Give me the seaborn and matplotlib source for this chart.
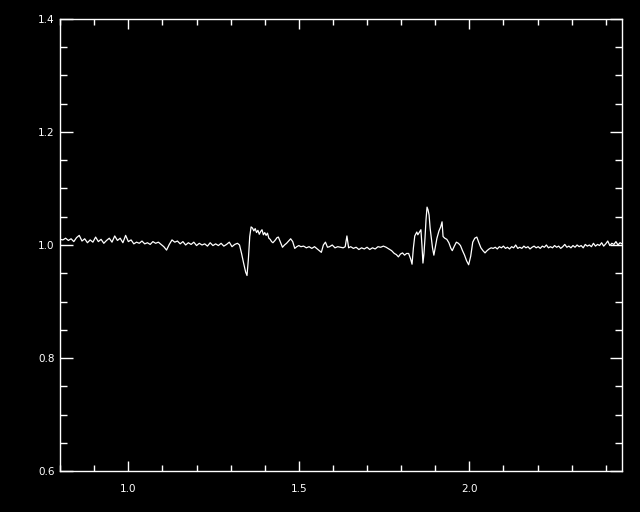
import numpy as np
import pandas as pd
import matplotlib
matplotlib.use('Agg')
import matplotlib.pyplot as plt
import seaborn as sns
from matplotlib.ticker import MultipleLocator, FormatStrFormatter

# spectrum: wavelength / normalised flux
wave = [
    0.800, 0.808, 0.816, 0.824, 0.832, 0.840, 0.848, 0.856, 0.864, 0.872,
    0.880, 0.888, 0.896, 0.904, 0.912, 0.920, 0.928, 0.936, 0.944, 0.952,
    0.960, 0.968, 0.976, 0.984, 0.992, 1.000, 1.008, 1.016, 1.024, 1.032,
    1.040, 1.048, 1.056, 1.064, 1.072, 1.080, 1.088, 1.096, 1.104, 1.112,
    1.120, 1.128, 1.136, 1.144, 1.152, 1.160, 1.168, 1.176, 1.184, 1.192,
    1.200, 1.208, 1.216, 1.224, 1.232, 1.240, 1.248, 1.256, 1.264, 1.272,
    1.280, 1.288, 1.296, 1.304, 1.312, 1.320,
    1.326, 1.332, 1.338, 1.344, 1.348, 1.352, 1.356, 1.360, 1.364, 1.368,
    1.372, 1.376, 1.380, 1.384, 1.388, 1.392, 1.396, 1.400, 1.404, 1.408,
    1.412, 1.416, 1.420,
    1.424, 1.430, 1.436, 1.440, 1.446, 1.452, 1.458, 1.464, 1.470, 1.476,
    1.482, 1.488, 1.494, 1.500, 1.506, 1.514, 1.522, 1.530, 1.538, 1.546,
    1.554, 1.560, 1.566, 1.572, 1.578, 1.584, 1.590, 1.598, 1.606, 1.614,
    1.622, 1.630,
    1.636, 1.641, 1.646, 1.652, 1.660, 1.668, 1.676, 1.684, 1.692, 1.700,
    1.708, 1.716, 1.724, 1.732, 1.740, 1.748, 1.756, 1.764, 1.772, 1.780,
    1.786, 1.792, 1.798, 1.804, 1.810, 1.816, 1.822, 1.828,
    1.832, 1.836, 1.840, 1.846, 1.849, 1.853, 1.858, 1.861, 1.864, 1.867,
    1.870, 1.873, 1.876, 1.879, 1.882, 1.885, 1.888, 1.892, 1.896, 1.900,
    1.905, 1.911, 1.916, 1.920, 1.923, 1.928, 1.934, 1.940, 1.946, 1.950,
    1.956, 1.962, 1.968, 1.974, 1.980, 1.986, 1.992, 1.998, 2.004, 2.010,
    2.016, 2.022,
    2.028, 2.034, 2.040, 2.046, 2.052, 2.058, 2.064, 2.070, 2.076, 2.082,
    2.088, 2.094, 2.100, 2.106, 2.112, 2.118, 2.124, 2.130, 2.136, 2.142,
    2.148, 2.154, 2.160, 2.166, 2.172, 2.178, 2.184, 2.190, 2.196, 2.202,
    2.208, 2.214, 2.220, 2.226, 2.232, 2.238, 2.244, 2.250, 2.256, 2.262,
    2.268, 2.274, 2.280, 2.286, 2.292, 2.298, 2.304, 2.310, 2.316, 2.322,
    2.328, 2.334, 2.340, 2.346, 2.352, 2.358, 2.364, 2.370, 2.376, 2.382,
    2.388, 2.394, 2.400, 2.406, 2.412, 2.418, 2.424, 2.430, 2.436, 2.442,
    2.448,
]
flux = [
    1.010, 1.009, 1.012, 1.008, 1.011, 1.006, 1.013, 1.017, 1.007, 1.011,
    1.004, 1.009, 1.005, 1.014, 1.006, 1.010, 1.003, 1.008, 1.012, 1.005,
    1.016, 1.008, 1.012, 1.004, 1.017, 1.006, 1.009, 1.002, 1.005, 1.003,
    1.007, 1.002, 1.004, 1.001, 1.006, 1.003, 1.005, 1.001, 0.997, 0.991,
    1.001, 1.009, 1.005, 1.007, 1.002, 1.006, 1.000, 1.004, 1.001, 1.005,
    0.999, 1.003, 1.000, 1.002, 0.998, 1.004, 0.999, 1.002, 0.999, 1.003,
    0.998, 1.001, 1.005, 0.997, 1.001, 1.003,
    1.000, 0.985, 0.968, 0.952, 0.946, 0.975, 1.015, 1.032, 1.030, 1.025,
    1.029, 1.022, 1.026, 1.019, 1.024, 1.027, 1.018, 1.022, 1.017, 1.021,
    1.012, 1.010, 1.006,
    1.004, 1.008, 1.013, 1.014, 1.005, 0.996, 1.000, 1.003, 1.007, 1.011,
    1.006, 0.994, 0.997, 0.999, 0.997, 0.998, 0.995, 0.997, 0.994, 0.997,
    0.993, 0.990, 0.987, 1.000, 1.005, 0.996, 0.997, 1.000, 0.995, 0.997,
    0.996, 0.995,
    0.997, 1.016, 0.995, 0.997, 0.994, 0.996, 0.992, 0.995, 0.993, 0.996,
    0.992, 0.995, 0.993, 0.997, 0.996, 0.998, 0.996, 0.993, 0.990, 0.985,
    0.983, 0.979, 0.984, 0.986, 0.982, 0.985, 0.985, 0.975,
    0.966, 0.995, 1.016, 1.023, 1.018, 1.022, 1.027, 1.000, 0.968, 0.985,
    1.012, 1.045, 1.067, 1.062, 1.053, 1.030, 1.015, 0.995, 0.982, 0.995,
    1.012, 1.025, 1.032, 1.041, 1.015, 1.012, 1.010, 1.004, 0.994, 0.990,
    0.998, 1.005, 1.003, 0.999, 0.990, 0.982, 0.972, 0.965, 0.980, 1.005,
    1.012, 1.014,
    1.004, 0.995, 0.990, 0.986, 0.990, 0.993, 0.995, 0.994, 0.996, 0.993,
    0.997, 0.995, 0.998, 0.994, 0.996, 0.993, 0.997, 0.995, 1.000, 0.994,
    0.996, 0.994, 0.998, 0.995, 0.997, 0.993, 0.996, 0.998, 0.995, 0.997,
    0.994, 0.998, 0.996, 1.000, 0.995, 0.997, 0.995, 0.999, 0.996, 0.998,
    0.994, 0.997, 1.001, 0.996, 0.998, 0.995, 0.999, 0.996, 1.000, 0.997,
    0.999, 0.995, 1.001, 0.998, 1.000, 0.997, 1.003, 0.998, 1.001, 0.999,
    1.004, 0.998, 1.002, 1.007, 0.999, 1.003, 1.001, 1.006, 1.000, 1.004,
    1.002,
]

df = pd.DataFrame({'wave': wave, 'flux': flux})

sns.set_style('dark')
plt.rcParams['font.family'] = ['DejaVu Sans']
plt.rcParams['figure.facecolor'] = 'black'
plt.rcParams['axes.facecolor'] = 'black'

fig = plt.figure(figsize=(6.4, 5.12), dpi=100)
ax = fig.add_axes([0.094, 0.080, 0.878, 0.883])
ax.set_facecolor('black')

sns.lineplot(data=df, x='wave', y='flux', color='white', linewidth=0.9,
             sort=False, estimator=None, ax=ax)

ax.set_xlim(0.8, 2.448)
ax.set_ylim(0.6, 1.4)
ax.set_xlabel('')
ax.set_ylabel('')
ax.grid(False)

ax.xaxis.set_major_locator(MultipleLocator(0.5))
ax.xaxis.set_minor_locator(MultipleLocator(0.1))
ax.yaxis.set_major_locator(MultipleLocator(0.2))
ax.yaxis.set_minor_locator(MultipleLocator(0.05))
ax.xaxis.set_major_formatter(FormatStrFormatter('%.1f'))
ax.yaxis.set_major_formatter(FormatStrFormatter('%.1f'))

for s in ax.spines.values():
    s.set_color('white')
    s.set_linewidth(1.0)

ax.tick_params(axis='both', which='both', direction='in', colors='white',
               bottom=True, left=True, top=True, right=True,
               width=1.0, labelsize=7.5)
ax.tick_params(axis='x', which='major', length=7, pad=9)
ax.tick_params(axis='x', which='minor', length=4)
ax.tick_params(axis='y', which='major', length=9, pad=4)
ax.tick_params(axis='y', which='minor', length=5)

fig.savefig('out.png', dpi=100, facecolor='black')
